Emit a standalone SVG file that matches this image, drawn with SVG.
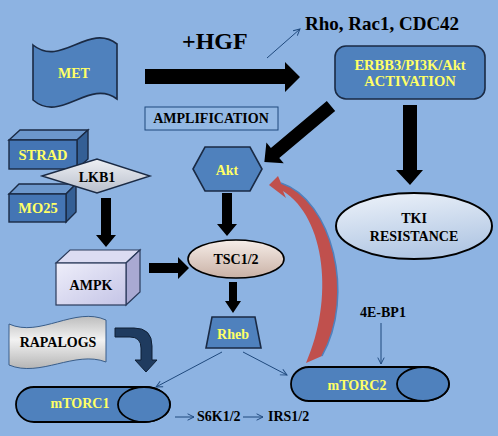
<svg xmlns="http://www.w3.org/2000/svg" width="498" height="436" viewBox="0 0 498 436">
<defs>
<style>
.t{font-family:"Liberation Serif","Times New Roman",serif;font-weight:bold;text-anchor:middle;}
.y{fill:#ffff66;font-size:14px;}
.k{fill:#000;font-size:14px;}
.blue{fill:#4f81bd;stroke:#1a2a44;stroke-width:1.6;}
.big{fill:#000;}
.thin{stroke:#1f497d;stroke-width:1;fill:none;marker-end:url(#ah);}
</style>
<marker id="ah" viewBox="0 0 10 10" refX="9" refY="5" markerWidth="8" markerHeight="8" markerUnits="userSpaceOnUse" orient="auto">
<path d="M1,1 L9,5 L1,9" fill="none" stroke="#1f497d" stroke-width="1.2"/>
</marker>
<linearGradient id="gTki" x1="0" y1="0" x2="0.3" y2="1">
<stop offset="0" stop-color="#eef3fa"/><stop offset="1" stop-color="#b3c8e4"/>
</linearGradient>
<linearGradient id="gTsc" x1="0" y1="0" x2="0" y2="1">
<stop offset="0" stop-color="#f6ede8"/><stop offset="1" stop-color="#c9b1a5"/>
</linearGradient>
<linearGradient id="gLkb" x1="0" y1="0" x2="0" y2="1">
<stop offset="0" stop-color="#eef0f4"/><stop offset="1" stop-color="#b9bfcc"/>
</linearGradient>
<linearGradient id="gAmpk" x1="0" y1="0" x2="1" y2="1">
<stop offset="0" stop-color="#eeeefa"/><stop offset="1" stop-color="#c4c4e6"/>
</linearGradient>
<linearGradient id="gRap" x1="0" y1="0" x2="0" y2="1">
<stop offset="0" stop-color="#bdbdbd"/><stop offset="0.45" stop-color="#f2f2f2"/><stop offset="1" stop-color="#b5b5b5"/>
</linearGradient>
</defs>
<rect x="0" y="0" width="498" height="436" fill="#8db3e2"/>

<g id="connectors">
<polygon class="big" points="145,69 285,69 285,62 300,77 285,92 285,84 145,84"/>
<polygon class="big" points="403,105 417,105 417,170 423,170 410,185 396,170 403,170"/>
<polygon class="big" transform="translate(331,106) rotate(140)" points="0,-6.5 73,-6.5 73,-13.5 87,0 73,13.5 73,6.5 0,6.5"/>
<polygon class="big" points="222,193 232,193 232,224 237,224 227,236 217,224 222,224"/>
<polygon class="big" points="149,263 178,263 178,257 189,268 178,279 178,273 149,273"/>
<polygon class="big" points="229,282 237,282 237,301 241,301 233,313 225,301 229,301"/>
<polygon class="big" points="101,198 111,198 111,235 116,235 106,247 96,235 101,235"/>
<path d="M115,328 L134,328 Q152,328 152,346 L152,360 L157,360 L146,372 L135,360 L141,360 L141,348 Q141,337 130,337 L115,337 Z" fill="#1f3b5f" stroke="#0f1f35" stroke-width="1"/>
<path d="M269,185 L278,176 L281,183 C332,200 356,295 322,356 L306,363 C334,300 326,218 283,191 L286,198 Z" fill="#c0504d"/>
<path d="M281,183 C332,200 356,295 322,356" fill="none" stroke="#4f81bd" stroke-width="1.5"/>
<line class="thin" x1="267" y1="58" x2="300" y2="29"/>
<line class="thin" x1="222" y1="352" x2="156" y2="387"/>
<line class="thin" x1="243" y1="352" x2="287" y2="375"/>
<line class="thin" x1="381" y1="323" x2="381" y2="364"/>
<line class="thin" x1="175" y1="417" x2="194" y2="417"/>
<line class="thin" x1="243" y1="417" x2="263" y2="417"/>
</g>

<g id="hgf"><text class="t" x="182" y="49" style="font-size:24px;text-anchor:start">+HGF</text></g>
<g id="rho"><text class="t k" x="305" y="30" style="font-size:19px;text-anchor:start">Rho, Rac1, CDC42</text></g>

<g id="met">
<path class="blue" d="M33,45 C61,68 89,22 117,44 L117,99 C89,78 61,124 33,100 Z"/>
<text class="t y" x="74" y="78">MET</text>
</g>

<g id="erbb3">
<rect class="blue" x="335" y="46" width="150" height="53" rx="11" stroke="#000" stroke-width="2"/>
<text class="t y" x="410" y="70" style="font-size:14.5px">ERBB3/PI3K/Akt</text>
<text class="t y" x="410" y="86" style="font-size:14.5px">ACTIVATION</text>
</g>

<g id="amplification">
<rect x="145" y="107" width="133" height="23" fill="#93b8e4" stroke="#1f497d" stroke-width="1"/>
<text class="t k" x="211" y="123">AMPLIFICATION</text>
</g>

<g id="tki">
<ellipse cx="414" cy="226" rx="78" ry="33" fill="url(#gTki)" stroke="#000" stroke-width="2"/>
<text class="t k" x="414" y="223">TKI</text>
<text class="t k" x="414" y="241">RESISTANCE</text>
</g>

<g id="akt">
<polygon class="blue" points="193,169 205,147 250,147 262,169 250,191 205,191"/>
<text class="t y" x="227" y="175">Akt</text>
</g>

<g id="strad">
<polygon points="9,140 20,130 88,130 77,140" fill="#6c97cc" stroke="#1a2a44" stroke-width="1.4"/>
<polygon points="77,140 88,130 88,159 77,169" fill="#345f95" stroke="#1a2a44" stroke-width="1.4"/>
<rect x="9" y="140" width="68" height="29" fill="#4475b4" stroke="#1a2a44" stroke-width="1.4"/>
<text class="t y" x="43" y="160" style="font-size:14.5px">STRAD</text>
</g>

<g id="mo25">
<polygon points="9,194 19,184 76,184 66,194" fill="#6c97cc" stroke="#1a2a44" stroke-width="1.4"/>
<polygon points="66,194 76,184 76,212 66,222" fill="#345f95" stroke="#1a2a44" stroke-width="1.4"/>
<rect x="9" y="194" width="57" height="28" fill="#4475b4" stroke="#1a2a44" stroke-width="1.4"/>
<text class="t y" x="38" y="213" style="font-size:14.5px">MO25</text>
</g>

<g id="lkb1">
<polygon points="42,176 97,159 150,176 97,193" fill="url(#gLkb)" stroke="#1a2a44" stroke-width="1.4"/>
<text class="t k" x="97" y="182">LKB1</text>
</g>

<g id="ampk">
<polygon points="56,263 70,250 140,250 126,263" fill="#dcdcf2" stroke="#2a3a5a" stroke-width="1.2"/>
<polygon points="126,263 140,250 140,292 126,305" fill="#a9a9d2" stroke="#2a3a5a" stroke-width="1.2"/>
<rect x="56" y="263" width="70" height="42" fill="url(#gAmpk)" stroke="#2a3a5a" stroke-width="1.2"/>
<text class="t k" x="91" y="290">AMPK</text>
</g>

<g id="tsc">
<ellipse cx="236" cy="259" rx="48" ry="19" fill="url(#gTsc)" stroke="#000" stroke-width="1.6"/>
<text class="t k" x="236" y="264">TSC1/2</text>
</g>

<g id="rheb">
<polygon class="blue" points="212,317 255,317 261,348 206,348"/>
<text class="t y" x="233" y="339">Rheb</text>
</g>

<g id="rapalogs">
<path d="M9,324 C40,338 75,306 106,320 L106,362 C75,350 40,378 9,365 Z" fill="url(#gRap)" stroke="#385d8a" stroke-width="1"/>
<text class="t k" x="58" y="347">RAPALOGS</text>
</g>

<g id="mtorc1">
<path d="M34,387 L144,387 A26,17.5 0 0 1 144,422 L34,422 A18,17.5 0 0 1 34,387 Z" fill="#4f81bd" stroke="#000" stroke-width="1.8"/>
<ellipse cx="144" cy="404.5" rx="26" ry="17.5" fill="#4f81bd" stroke="#000" stroke-width="1.8"/>
<text class="t y" x="80" y="408">mTORC1</text>
</g>

<g id="mtorc2">
<path d="M309,367 L423,367 A26,17 0 0 1 423,401 L309,401 A18,17 0 0 1 309,367 Z" fill="#4f81bd" stroke="#000" stroke-width="1.8"/>
<ellipse cx="423" cy="384" rx="26" ry="17" fill="#4f81bd" stroke="#000" stroke-width="1.8"/>
<text class="t y" x="357" y="390">mTORC2</text>
</g>

<g id="labels">
<text class="t k" x="360" y="317" style="text-anchor:start">4E-BP1</text>
<text class="t k" x="197" y="421" style="text-anchor:start">S6K1/2</text>
<text class="t k" x="268" y="421" style="text-anchor:start">IRS1/2</text>
</g>
</svg>
